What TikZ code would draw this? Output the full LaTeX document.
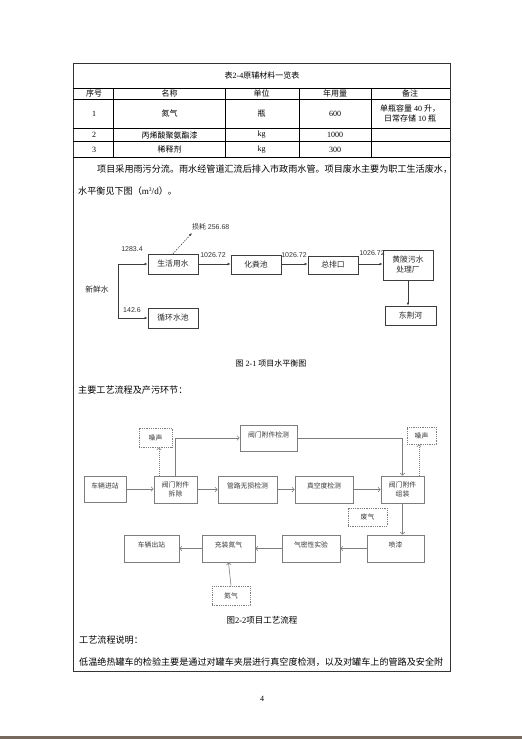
\documentclass[tikz,border=0pt]{standalone}
\usepackage{fontspec}
\setmainfont{Liberation Serif}
\newfontfamily\cjk{Noto Sans CJK SC}
\newfontfamily\arial{Liberation Sans}
\usetikzlibrary{arrows.meta}
\definecolor{wline}{RGB}{60,60,60}
\definecolor{pline}{RGB}{125,125,125}
\definecolor{ptext}{RGB}{55,55,55}
\definecolor{barc}{RGB}{120,105,95}
\tikzset{
 cell/.style={font=\fontsize{8}{10.5}\selectfont, inner sep=0pt, align=center},
 body/.style={font=\fontsize{9.1}{11}\selectfont, inner sep=0pt, anchor=west},
 wbox/.style={draw=wline, line width=0.7pt, rectangle, inner sep=1pt, font=\cjk\fontsize{7.8}{10}\selectfont, text=black!85, align=center},
 wnum/.style={font=\arial\fontsize{7}{8}\selectfont, inner sep=0pt, text=black!80},
 warrow/.style={draw=wline, line width=0.6pt, -{Latex[length=3pt,width=2.5pt]}},
 pbox/.style={draw=pline, line width=0.6pt, rectangle, inner sep=1pt, font=\cjk\fontsize{6.8}{9}\selectfont, text=ptext, align=center},
 ptop/.style={pbox, text height=6pt, text depth=8pt},
 pdash/.style={pbox, dash pattern=on 1pt off 0.8pt},
 parrow/.style={draw=pline, line width=0.6pt, -{Straight Barb[length=2.2pt,width=4.5pt]}},
}
\begin{document}
\begin{tikzpicture}[x=1pt,y=-1pt]
\useasboundingbox (0,0) rectangle (522,739);
\fill[white] (0,0) rectangle (522,739);
% page frame
\draw[line width=0.9pt, draw=black!80] (73,63) rectangle (450,671);
% bottom bar
\fill[barc] (0,736) rectangle (522,739);

% ---- table ----
\node[cell] (ttitle) at (262,75) {{\cjk 表}2-4{\cjk 原辅材料一览表}};
\draw[line width=1pt] (73,88) -- (450,88);
\draw[line width=0.5pt] (73,99.5) -- (450,99.5);
\draw[line width=0.5pt] (73,128) -- (450,128);
\draw[line width=0.5pt] (73,141.5) -- (450,141.5);
\draw[line width=1pt] (73,157) -- (450,157);
\foreach \cx in {113,225,299,371} \draw[line width=0.5pt] (\cx,88) -- (\cx,157);
\node[cell] (h1) at (94,93.5) {\cjk 序号};
\node[cell] (h2) at (169.5,93.5) {\cjk 名称};
\node[cell] (h3) at (261.5,93.5) {\cjk 单位};
\node[cell] (h4) at (335,93.5) {\cjk 年用量};
\node[cell] (h5) at (410,93.5) {\cjk 备注};
\node[cell] (r1a) at (94,113.5) {1};
\node[cell] (r1b) at (169.5,113.5) {\cjk 氮气};
\node[cell] (r1c) at (261.5,113.5) {\cjk 瓶};
\node[cell] (r1d) at (335,113.5) {600};
\node[cell] (r1e) at (410,113.5) {{\cjk 单瓶容量} 40 {\cjk 升，}\\{\cjk 日常存储} 10 {\cjk 瓶}};
\node[cell] (r2a) at (94,135) {2};
\node[cell] (r2b) at (169.5,135) {\cjk 丙烯酸聚氨酯漆};
\node[cell] (r2c) at (261.5,135) {kg};
\node[cell] (r2d) at (335,135) {1000};
\node[cell] (r3a) at (94,149.5) {3};
\node[cell] (r3b) at (169.5,149.5) {\cjk 稀释剂};
\node[cell] (r3c) at (261.5,149.5) {kg};
\node[cell] (r3d) at (335,149.5) {300};

% ---- paragraph ----
\node[body] (p1) at (97,169) {\cjk 项目采用雨污分流。雨水经管道汇流后排入市政雨水管。项目废水主要为职工生活废水，};
\node[body] (p2) at (78,191) {{\cjk 水平衡见下图（}m\raisebox{2.5pt}{\fontsize{5.5}{6}\selectfont 3}/d{\cjk ）。}};

% ---- water balance ----
\node[wbox, minimum width=50pt, minimum height=20pt] (sh) at (173,264) {生活用水};
\node[wbox, minimum width=50pt, minimum height=19pt] (hf) at (256,264.5) {化粪池};
\node[wbox, minimum width=50pt, minimum height=18pt] (zp) at (333,265) {总排口};
\node[wbox, minimum width=50pt, minimum height=30pt] (hp) at (408,265) {黄陂污水\\处理厂};
\node[wbox, minimum width=51pt, minimum height=19pt] (dj) at (410.5,315.5) {东荆河};
\node[wbox, minimum width=50pt, minimum height=20pt] (xh) at (173,318) {循环水池};
\node[inner sep=0pt, font=\cjk\fontsize{7.8}{9}\selectfont, text=black!85] (xx) at (97,290) {新鲜水};
\node[inner sep=0pt, font=\fontsize{7}{8}\selectfont, text=black!80, anchor=west] (loss) at (192,227) {{\cjk 损耗} {\arial 256.68}};
\coordinate (s1) at (118,264);
\coordinate (s2) at (118,318);
\coordinate (lossend) at (192,233);
\draw[draw=wline, line width=0.6pt] (s1) -- (s2);
\draw[warrow] (s1) -- (sh.west);
\draw[warrow] (s2) -- (xh.west);
\draw[warrow] (sh.east) -- (sh.east -| hf.west);
\draw[warrow] (hf.east |- sh.east) -- (hf.east |- sh.east -| zp.west);
\draw[warrow] (zp.east |- sh.east) -- (zp.east |- sh.east -| hp.west);
\draw[warrow] (hp.south) -- (hp.south |- dj.north);
\draw[draw=wline, line width=0.6pt, dash pattern=on 1.2pt off 1.2pt, -{Latex[length=3pt,width=2.5pt]}] (sh.north) -- (lossend);
\node[wnum] (n1) at (132,249) {1283.4};
\node[wnum] (n2) at (132,310) {142.6};
\node[wnum] (n3) at (213,255) {1026.72};
\node[wnum] (n4) at (294,255) {1026.72};
\node[wnum] (n5) at (372,253) {1026.72};

\node[inner sep=0pt, font=\fontsize{8}{9}\selectfont] (cap1) at (271,363) {{\cjk 图} 2-1 {\cjk 项目水平衡图}};
\node[body] (p3) at (78,390) {\cjk 主要工艺流程及产污环节：};

% ---- process flow ----
\node[ptop, minimum width=42pt, minimum height=26pt] (jz) at (105,489) {车辆进站};
\node[pbox, minimum width=43pt, minimum height=27pt] (cc) at (175.5,489.5) {阀门附件\\拆除};
\node[ptop, minimum width=59pt, minimum height=27pt] (gl) at (247.5,489.5) {管路无损检测};
\node[ptop, minimum width=58pt, minimum height=27pt] (zk) at (324,489.5) {真空度检测};
\node[pbox, minimum width=43pt, minimum height=27pt] (zz) at (402.5,489.5) {阀门附件\\组装};
\node[ptop, minimum width=57pt, minimum height=26pt] (fj) at (268.5,438) {阀门附件检测};
\node[pdash, minimum width=33pt, minimum height=19pt] (zs1) at (155.5,437.5) {噪声};
\node[pdash, minimum width=29pt, minimum height=17pt] (zs2) at (421.5,435.5) {噪声};
\node[pdash, minimum width=39pt, minimum height=18pt] (fq) at (367.5,517) {废气};
\node[ptop, minimum width=57pt, minimum height=27pt] (pq) at (395.5,548.5) {喷漆};
\node[ptop, minimum width=58pt, minimum height=27pt] (qm) at (311,548.5) {气密性实验};
\node[ptop, minimum width=53pt, minimum height=27pt] (cz) at (228.5,548.5) {充装氮气};
\node[ptop, minimum width=55pt, minimum height=27pt] (cs) at (151.5,548.5) {车辆出站};
\node[pdash, minimum width=38pt, minimum height=19pt] (dq) at (231,595.5) {氮气};

\draw[parrow] (jz.east) -- (jz.east -| cc.west);
\draw[parrow] (cc.east) -- (gl.west);
\draw[parrow] (gl.east) -- (zk.west);
\draw[parrow] (zk.east) -- (zz.west);
\draw[parrow] (cc.north) |- (fj.west);
\draw[parrow] (fj.east) -| (zz.north);
\draw[parrow, dash pattern=on 1pt off 1pt] ([xshift=3.5pt]zs1.south |- cc.north) -- ([xshift=3.5pt]zs1.south);
\draw[parrow, dash pattern=on 1pt off 1pt] ([xshift=-2.5pt]zs2.south |- zz.north) -- ([xshift=-2.5pt]zs2.south);
\draw[parrow] (zz.south) -- (zz.south |- pq.north);
\draw[parrow] (pq.west) -- (qm.east);
\draw[parrow] (qm.west) -- (cz.east);
\draw[parrow] (cz.west) -- (cs.east);
\draw[parrow] (dq.north) -- (cz.south);

\node[inner sep=0pt, font=\fontsize{8.5}{9}\selectfont] (cap2) at (262,620) {{\cjk 图}2-2{\cjk 项目工艺流程}};
\node[body] (p4) at (79,640) {\cjk 工艺流程说明：};
\node[body] (p5) at (79,662) {\cjk 低温绝热罐车的检验主要是通过对罐车夹层进行真空度检测，以及对罐车上的管路及安全附};
\node[inner sep=0pt, font=\fontsize{8}{9}\selectfont] (pg) at (262,699) {4};
\end{tikzpicture}
\end{document}
